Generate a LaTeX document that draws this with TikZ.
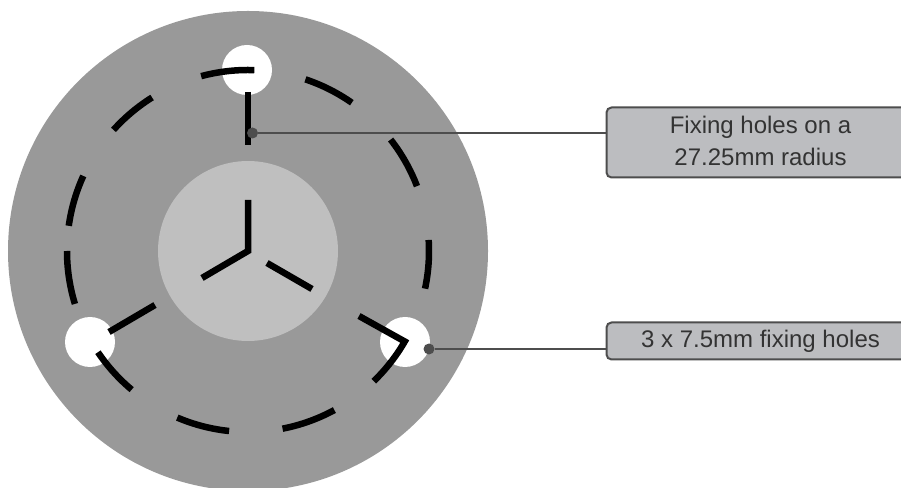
\documentclass[tikz,border=0pt]{standalone}
\usepackage{fontspec}
\usetikzlibrary{calc}
\setmainfont{Liberation Sans}
\definecolor{discgrey}{HTML}{999999}
\definecolor{hubgrey}{HTML}{BFBFBF}
\definecolor{boxgrey}{HTML}{BCBDC0}
\definecolor{linegrey}{HTML}{4D4D4D}
\definecolor{textgrey}{HTML}{333333}
\tikzset{
  mark line/.style={black,line width=6.5pt,line cap=butt,line join=miter,miter limit=10},
  hole/.style={circle,fill=white,inner sep=0pt,minimum size=50pt},
  callout/.style={draw=linegrey,line width=2pt,fill=boxgrey,rounded corners=5pt,text=textgrey,
    font=\fontsize{24pt}{32pt}\selectfont,align=center,anchor=west,minimum width=308pt,inner sep=0pt},
  leader/.style={draw=linegrey,line width=2pt},
  leader dot/.style={circle,fill=linegrey,inner sep=0pt,minimum size=11pt}
}
\begin{document}
\begin{tikzpicture}[x=1pt,y=1pt]
\useasboundingbox (0,0) rectangle (901,487);
\clip (0,0) rectangle (901,487);
\coordinate (c) at (248,236);
\fill[discgrey] (c) circle[radius=240pt];
\fill[hubgrey] (c) circle[radius=90pt];
\node[hole] (h1) at (247,417) {};
\node[hole] (h2) at (90,145) {};
\node[hole] (h3) at (405,145) {};
% dashed ring
\foreach \a/\b in {88/105,122/138,155.5/172,180/197,214/230,247/264,281/298.5,348/363.5,21/38,55/71.5}{
  \draw[mark line] ($(c)+(\a:181pt)$) arc[start angle=\a,end angle=\b,radius=181pt];
}
% radial marks
\draw[mark line] (248,395) -- (248,342);
\draw[mark line] (359,171) -- ($(c)+(-30:181pt)$) arc[start angle=-30,end angle=-46,radius=181pt];
\draw[mark line] (109,155) -- (155,182);
\draw[mark line] (248,287) -- (248,236) -- (202,209);
\draw[mark line] (267,224) -- (312,198);
% callouts
\node[callout,minimum height=70pt,text depth=4pt] (b1) at (605.5,344.5) {Fixing holes on a\\27.25mm radius};
\node[callout,minimum height=37pt] (b2) at (605.5,146) {3 x 7.5mm fixing holes};
\node[leader dot] (d1) at (252.5,354) {};
\node[leader dot] (d2) at (429,138) {};
\draw[leader] (d1) -- (d1 -| b1.west);
\draw[leader] (d2) -- (d2 -| b2.west);
\end{tikzpicture}
\end{document}
